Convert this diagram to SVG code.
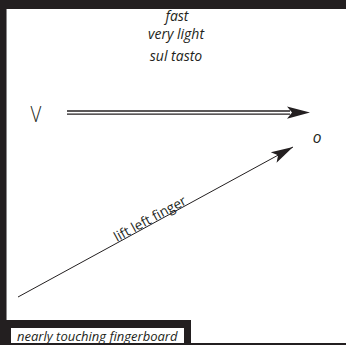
<svg xmlns="http://www.w3.org/2000/svg" width="346" height="345" viewBox="0 0 346 345">
<defs>
<style>
.t{font-family:"Open Sans","Liberation Sans",Arial,sans-serif;fill:#231f20}
.i{font-style:italic;font-size:13px}
.h{font-style:italic;font-size:14px}
.ln{stroke:#231f20;fill:none}
</style>
<marker id="ah" markerWidth="24" markerHeight="14" refX="22" refY="6" orient="auto" markerUnits="userSpaceOnUse" viewBox="0 0 24 12">
<path d="M0,0 L22,6 L0,12 L5,6 Z" fill="#231f20"/>
</marker>
</defs>
<rect width="346" height="345" fill="#ffffff"/>
<g id="frame">
<rect x="0" y="0" width="346" height="9" fill="#231f20"/>
<rect x="0" y="0" width="6" height="345" fill="#231f20"/>
<rect x="6" y="9" width="1" height="311" fill="#8a8889"/>
<rect x="0" y="320" width="191" height="25" fill="#231f20"/>
<rect x="0" y="343" width="346" height="2" fill="#231f20"/>
</g>
<g id="tempo">
<text class="t h" x="177" y="21" text-anchor="middle">fast</text>
<text class="t h" x="176" y="39" text-anchor="middle">very light</text>
<text class="t h" x="176" y="61" text-anchor="middle">sul tasto</text>
</g>
<g id="start">
<text class="t" x="0" y="0" font-size="22" font-weight="300" text-anchor="middle" transform="translate(36,122) scale(0.85,1)">V</text>
</g>
<g id="end">
<text class="t" x="317" y="143" text-anchor="middle" font-size="15.5" font-style="italic">o</text>
</g>
<g id="connectors">
<line class="ln" x1="67" y1="111" x2="290" y2="111" stroke-width="1.3"/>
<line class="ln" x1="67" y1="114.2" x2="290" y2="114.2" stroke-width="1.3"/>
<path d="M287,106.5 L310,112.6 L287,118.7 L292,112.6 Z" fill="#231f20"/>
<line class="ln" x1="18" y1="297" x2="293" y2="147" stroke-width="1" marker-end="url(#ah)"/>
</g>
<g id="lift">
<text class="t" font-size="13.5" transform="translate(117,242) rotate(-28.6)">lift left finger</text>
</g>
<g id="label">
<rect x="11" y="328" width="173" height="15" fill="#ffffff"/>
<text class="t i" x="17" y="341">nearly touching fingerboard</text>
</g>
</svg>
